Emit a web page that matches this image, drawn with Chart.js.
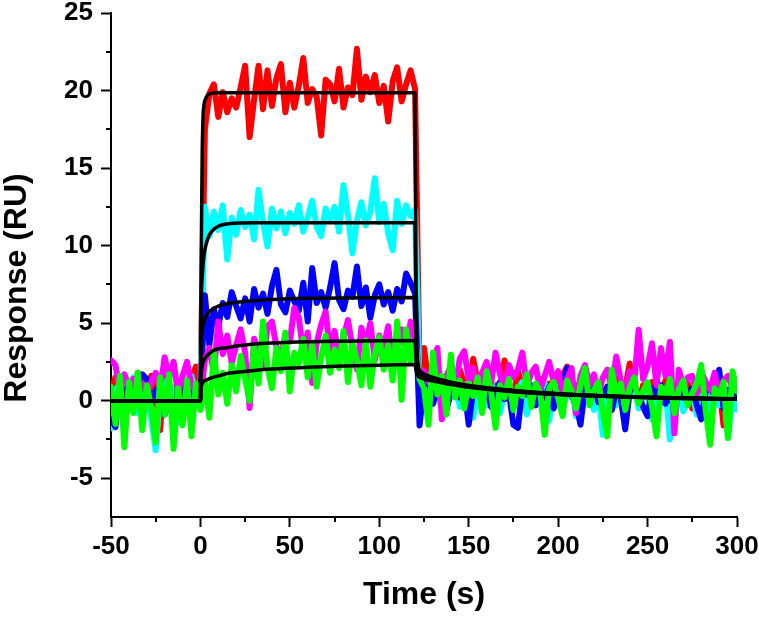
<!DOCTYPE html>
<html>
<head>
<meta charset="utf-8">
<title>Response vs time</title>
<script src="https://cdn.jsdelivr.net/npm/chart.js@4.4.1/dist/chart.umd.min.js"></script>
<style>
  body { margin: 0; background: #fff; }
  #wrap { width: 759px; height: 617px; }
</style>
</head>
<body>
<div id="wrap"><canvas id="chart" width="759" height="617"></canvas></div>
<script>
// sampled time points (s) for the measured curves
const time = [
  -50, -47.5, -45, -42.5, -40, -37.5, -35, -32.5, -30, -27.5,
  -25, -22.5, -20, -17.5, -15, -12.5, -10, -7.5, -5, -2.5,
  0, 2.5, 5, 7.5, 10, 12.5, 15, 17.5, 20, 22.5,
  25, 27.5, 30, 32.5, 35, 37.5, 40, 42.5, 45, 47.5,
  50, 52.5, 55, 57.5, 60, 62.5, 65, 67.5, 70, 72.5,
  75, 77.5, 80, 82.5, 85, 87.5, 90, 92.5, 95, 97.5,
  100, 102.5, 105, 107.5, 110, 112.5, 115, 117.5, 120, 122.5,
  125, 127.5, 130, 132.5, 135, 137.5, 140, 142.5, 145, 147.5,
  150, 152.5, 155, 157.5, 160, 162.5, 165, 167.5, 170, 172.5,
  175, 177.5, 180, 182.5, 185, 187.5, 190, 192.5, 195, 197.5,
  200, 202.5, 205, 207.5, 210, 212.5, 215, 217.5, 220, 222.5,
  225, 227.5, 230, 232.5, 235, 237.5, 240, 242.5, 245, 247.5,
  250, 252.5, 255, 257.5, 260, 262.5, 265, 267.5, 270, 272.5,
  275, 277.5, 280, 282.5, 285, 287.5, 290, 292.5, 295, 297.5,
  300
];

// measured responses (RU), one value per time point
const red = [
  0.8, 1.5, 0.2, -0.8, 1.2, 0.5, 1.8, -0.3, 0.9, 1.6,
  0.4, -1.9, 2.6, 1.1, 0.2, 1.3, -0.5, 0.8, 1.4, 2.2,
  0.6, 17.5, 19.8, 20.4, 18.3, 19.9, 18.6, 19.5, 18.9, 20.2,
  21.6, 17.0, 19.4, 21.6, 18.8, 21.3, 19.0, 20.8, 21.7, 18.6,
  20.5, 18.9, 20.3, 22.1, 19.2, 20.1, 19.6, 17.1, 20.7, 20.4,
  19.3, 21.4, 18.9, 20.2, 19.7, 22.7, 19.4, 20.9, 19.9, 21.0,
  19.2, 20.3, 18.0, 20.6, 21.5, 19.3, 20.4, 21.3, 20.1, 1.8,
  3.4, 1.2, 0.6, 2.1, 1.3, 0.4, 1.7, 0.9, 2.0, 1.1,
  0.3, 2.7, 1.2, 0.6, 1.5, -0.2, 1.0, 0.7, 2.6, 1.1,
  0.2, 1.9, 0.8, 1.3, -0.4, 0.9, 1.4, 0.5, 1.1, -0.3,
  0.8, 1.6, 2.2, 0.4, 1.0, -0.5, 2.2, 0.7, 0.3, 1.2,
  -0.6, 0.9, 0.5, 1.4, 0.1, 0.8, 2.4, 0.6, -0.2, 1.0,
  0.4, 1.2, -0.7, 0.6, 1.3, 0.2, -0.4, 0.9, 0.3, 1.1,
  -0.5, 1.1, 0.2, 0.7, -0.9, 0.5, 0.9, -1.6, 0.4, 1.0,
  0.3
];
const cyan = [
  -1.8, 0.6, 1.2, -0.4, 0.9, 1.5, -0.8, 0.3, 1.1, -1.2,
  -3.2, 0.5, 1.3, -0.6, 0.8, -1.4, 1.0, 0.2, 1.6, -0.3,
  0.9, 12.5, 10.6, 12.2, 11.0, 12.6, 9.1, 11.8, 10.7, 12.3,
  11.2, 12.0, 10.4, 13.6, 11.5, 9.95, 12.4, 11.1, 12.2, 10.8,
  12.1, 11.4, 12.6, 10.9, 11.8, 12.9, 11.2, 10.6, 12.4, 11.7,
  12.5, 10.9, 13.9, 12.0, 9.5, 11.6, 12.8, 11.3, 12.2, 14.35,
  11.5, 12.7, 10.8, 9.7, 12.9, 11.4, 12.6, 11.9, 12.3, 1.2,
  0.8, -0.2, 1.4, 0.5, -0.6, 1.1, 0.3, 1.5, -0.4, 0.7,
  1.2, -1.1, 0.4, 0.9, -0.3, 1.3, 0.2, -0.8, 0.6, 1.0,
  -0.5, 0.7, 1.2, -0.9, 0.4, 0.8, -0.2, 1.1, -1.3, 0.5,
  0.9, -0.4, 0.3, 1.0, -1.0, 0.6, 0.2, 0.8, -0.6, 0.4,
  -2.2, 0.5, 0.9, -0.3, 0.6, -0.8, 0.3, 1.0, -0.5, 0.2,
  0.7, -1.2, 0.4, -0.2, 0.8, -2.5, 0.3, 0.6, -0.7, 0.1,
  0.5, -0.9, 0.2, 0.7, -1.4, 0.4, -0.3, 0.6, -2.4, 0.2,
  -0.6
];
const blue = [
  -1.2, -1.7, 0.9, 0.3, 1.2, -0.5, 0.8, 1.7, 1.4, -0.2,
  0.6, 1.1, -0.9, 0.4, -1.5, 0.9, 0.2, 1.3, -0.4, 0.7,
  0.5, 6.8, 3.6, 5.9, 4.8, 6.3, 5.4, 7.0, 6.1, 5.3,
  6.6, 5.1, 7.2, 6.0, 6.9, 5.6, 7.4, 8.44, 6.2, 5.7,
  7.1, 6.4, 5.8, 7.6, 5.1, 8.55, 6.3, 7.0, 6.0, 7.3,
  8.87, 6.5, 5.9, 7.1, 6.7, 8.65, 6.1, 7.3, 5.35, 6.8,
  7.5, 6.2, 7.0, 5.8, 7.2, 6.4, 8.2, 7.6, 6.9, -1.6,
  0.9, 1.4, -0.2, 0.8, 1.2, -0.6, 0.5, 1.0, 0.2, 0.9,
  -1.55, 0.7, 1.1, 0.3, 0.9, -0.4, 0.6, 1.2, 0.1, 0.5,
  -1.55, -1.75, 0.8, 0.4, 1.0, -0.3, 0.7, 0.2, 0.9, -0.5,
  0.6, 1.1, 2.1, 0.3, -0.2, -1.55, 0.8, 0.4, 1.0, -0.1,
  0.5, 0.9, -0.6, 0.7, 0.2, -1.85, 0.6, 1.1, 0.3, -0.4,
  -1.0, 0.8, 0.3, 1.0, -0.2, 0.6, -0.7, 0.9, 0.2, 0.5,
  0.8, -0.3, -1.2, 0.6, 1.0, 0.2, 2.0, -0.5, 0.7, 0.3,
  0.4
];
const magenta = [
  2.6, 2.3, 0.6, 1.7, 0.9, 1.4, 0.3, 1.1, 0.5, 1.2,
  1.8, 0.7, 2.8, 1.5, 2.5, 0.4, 1.6, 2.5, 1.0, 0.6,
  0.2, 2.6, 3.4, 1.8, 5.1, 3.0, 4.2, 2.4, 3.6, 4.6,
  3.1, -0.47, 4.0, 3.3, 2.2, 4.8, 5.1, 3.5, 2.7, 4.3,
  3.8, 6.0, 5.35, 3.1, 4.4, 1.14, 3.7, 4.9, 5.75, 3.2,
  4.5, 2.9, 4.1, 5.2, 3.4, 2.0, 4.7, 3.6, 5.0, 2.6,
  4.2, 3.5, 4.8, 2.3, 3.9, 4.6, 3.0, 5.1, 4.0, 1.9,
  1.9, 1.2, 2.4, 3.4, -1.2, 1.6, 2.2, 0.9, 2.7, 3.2,
  1.4, 2.1, 0.6, 1.8, 2.5, 1.1, 3.1, 1.7, 0.8, 2.3,
  1.5, 2.0, 3.1, 0.9, 1.8, 2.2, 0.7, 1.6, 2.5, 1.2,
  1.9, 0.5, 1.4, 2.1, -0.8, 1.6, 2.3, 1.0, 1.7, 0.4,
  1.5, 2.0, 0.8, 2.85, 1.3, 0.6, 1.9, 1.1, 4.57, 1.4,
  2.2, 3.7, 1.0, 3.4, 1.6, 3.8, -2.1, 2.0, 0.9, 1.5,
  1.6, 0.4, 1.9, 1.2, 0.7, 1.8, 0.5, 1.3, 1.6, 0.8,
  1.2
];
const green = [
  0.9, -1.5, 1.6, -3.0, 1.2, -0.8, 1.8, -1.9, 1.0, -0.4,
  -2.7, 1.5, -0.9, 1.7, -3.1, 0.8, -1.6, 1.3, -2.3, 1.1,
  -0.6, 1.2, -1.1, 3.2, 0.4, 1.8, -0.2, 2.3, 0.6, 2.9,
  1.4, 0.0, 3.5, 1.1, 5.1, 2.2, 0.8, 3.4, 1.9, 4.4,
  0.6, 3.1, 2.4, 4.0, 1.5, 3.6, 0.9, 2.8, 4.2, 1.8,
  3.3, 2.1, 4.5, 1.2, 3.7, 2.6, 1.0, 3.9, 0.9, 3.0,
  4.1, 2.0, 3.6, 1.3, 5.1, 0.06, 4.6, 2.5, 3.8, 1.4,
  0.8, -1.55, 3.1, 0.4, 1.6, -0.9, 2.96, 0.2, 1.3, -0.5,
  1.1, 0.3, 1.5, -0.8, 1.9, 0.6, -1.75, 1.0, 0.2, 1.4,
  -0.6, 0.9, 0.3, 1.7, -0.4, 1.1, 0.5, -2.2, 0.8, 1.2,
  0.2, -1.0, 1.3, 0.6, -0.5, 1.0, 2.1, -0.3, 0.7, 1.2,
  -0.7, -2.3, 2.0, 0.4, 1.1, -0.6, 0.8, 1.5, -0.2, 0.6,
  1.2, -0.4, -2.3, 0.9, 0.3, 1.4, -0.8, 0.7, 1.3, -0.3,
  0.5, 1.1, 2.3, -0.6, -2.84, 0.8, 0.2, 1.2, -2.4, 1.9,
  0.6
];

// fitted curves (black), read at these times
const fitTime = [
  -50, 0, 0.5, 1, 1.5, 2, 3, 4, 5, 7.5, 10, 15, 20, 30, 40, 60, 80, 100, 120,
  120.5, 121, 121.5, 122, 123, 125, 130, 140, 150, 175, 200, 225, 250, 275, 300
];
const fitRed = [
  0, 0, 10, 16, 18.4, 19.1, 19.5, 19.7, 19.78, 19.84, 19.85, 19.85, 19.85, 19.85, 19.85, 19.85, 19.85, 19.85, 19.85,
  8.0, 3.6, 2.5, 2.1, 1.9, 1.72, 1.5, 1.2, 0.98, 0.66, 0.45, 0.32, 0.23, 0.17, 0.13
];
const fitCyan = [
  0, 0, 6.5, 8.0, 8.8, 9.4, 10.0, 10.4, 10.7, 11.05, 11.25, 11.4, 11.45, 11.47, 11.47, 11.47, 11.47, 11.47, 11.47,
  5.2, 2.9, 2.2, 1.95, 1.8, 1.65, 1.45, 1.17, 0.96, 0.64, 0.44, 0.31, 0.22, 0.16, 0.12
];
const fitBlue = [
  0, 0, 3.8, 4.5, 4.9, 5.1, 5.4, 5.6, 5.75, 5.95, 6.1, 6.25, 6.35, 6.45, 6.52, 6.6, 6.63, 6.64, 6.65,
  3.6, 2.5, 2.0, 1.82, 1.7, 1.57, 1.4, 1.13, 0.93, 0.62, 0.43, 0.3, 0.21, 0.15, 0.11
];
const fitMagenta = [
  0, 0, 1.8, 2.2, 2.45, 2.6, 2.8, 2.95, 3.05, 3.25, 3.35, 3.42, 3.52, 3.65, 3.72, 3.8, 3.84, 3.87, 3.88,
  2.7, 2.1, 1.85, 1.72, 1.62, 1.5, 1.34, 1.09, 0.9, 0.6, 0.41, 0.29, 0.2, 0.14, 0.1
];
const fitGreen = [
  0, 0, 0.9, 1.1, 1.2, 1.26, 1.32, 1.37, 1.42, 1.52, 1.6, 1.75, 1.83, 1.95, 2.04, 2.15, 2.23, 2.29, 2.33,
  2.0, 1.75, 1.62, 1.55, 1.48, 1.4, 1.27, 1.04, 0.86, 0.58, 0.4, 0.28, 0.19, 0.13, 0.09
];

const FONT = '"Liberation Sans", Arial, sans-serif';

function points(xs, ys) {
  return xs.map((x, i) => ({ x: x, y: ys[i] }));
}

function dataSet(values, color, order) {
  return {
    data: points(time, values),
    borderColor: color,
    borderWidth: 6,
    borderJoinStyle: 'round',
    borderCapStyle: 'round',
    pointRadius: 0,
    order: order
  };
}

function fitSet(values) {
  return {
    data: points(fitTime, values),
    borderColor: '#000',
    borderWidth: 3.5,
    borderJoinStyle: 'round',
    pointRadius: 0,
    cubicInterpolationMode: 'monotone',
    order: 0
  };
}

// short minor ticks and the two axis titles
const axisDecor = {
  id: 'axisDecor',
  afterDraw(chart) {
    const ctx = chart.ctx;
    const xs = chart.scales.x;
    const ys = chart.scales.y;
    const area = chart.chartArea;
    ctx.save();
    ctx.strokeStyle = '#000';
    ctx.lineWidth = 2;
    ctx.beginPath();
    xs.ticks.forEach(t => {
      if (t.value % 50 !== 0) {
        const px = Math.round(xs.getPixelForValue(t.value));
        ctx.moveTo(px, area.bottom);
        ctx.lineTo(px, area.bottom + 5);
      }
    });
    ys.ticks.forEach(t => {
      if (t.value % 5 !== 0 && t.value !== ys.min) {
        const py = Math.round(ys.getPixelForValue(t.value));
        ctx.moveTo(area.left, py);
        ctx.lineTo(area.left - 5, py);
      }
    });
    ctx.stroke();

    ctx.fillStyle = '#000';
    ctx.font = 'bold 32px ' + FONT;
    ctx.textAlign = 'center';
    ctx.textBaseline = 'alphabetic';
    ctx.fillText('Time (s)', (area.left + area.right) / 2, 604);
    ctx.translate(26, 288);
    ctx.rotate(-Math.PI / 2);
    ctx.fillText('Response (RU)', 0, 0);
    ctx.restore();
  }
};

new Chart(document.getElementById('chart'), {
  type: 'line',
  data: {
    datasets: [
      dataSet(red, '#ff0000', 5),
      dataSet(cyan, '#00ffff', 4),
      dataSet(blue, '#0000ff', 3),
      dataSet(magenta, '#ff00ff', 2),
      dataSet(green, '#00ff00', 1),
      fitSet(fitRed),
      fitSet(fitCyan),
      fitSet(fitBlue),
      fitSet(fitMagenta),
      fitSet(fitGreen)
    ]
  },
  options: {
    responsive: false,
    animation: false,
    layout: { padding: { left: 0, right: 22, top: 13, bottom: 0 } },
    plugins: {
      legend: { display: false },
      tooltip: { enabled: false }
    },
    scales: {
      x: {
        type: 'linear',
        min: -50,
        max: 300,
        ticks: {
          stepSize: 25,
          autoSkip: false,
          maxRotation: 0,
          padding: 4,
          color: '#000',
          font: { family: FONT, size: 26, weight: 'bold' },
          callback: v => (v % 50 === 0 ? v : '')
        },
        grid: {
          drawOnChartArea: false,
          drawTicks: true,
          tickLength: 10,
          tickWidth: 2,
          tickColor: c => (c.tick && c.tick.value % 50 === 0 ? '#000' : 'rgba(0,0,0,0)')
        },
        border: { display: true, color: '#000', width: 2 },
        afterFit: s => {
          s.height = 100;
          s.paddingLeft = 0;
          s.paddingRight = 0;
        }
      },
      y: {
        min: -7.5,
        max: 25,
        ticks: {
          stepSize: 2.5,
          autoSkip: false,
          padding: 8,
          color: '#000',
          font: { family: FONT, size: 26, weight: 'bold' },
          callback: v => (v % 5 === 0 ? v : '')
        },
        grid: {
          drawOnChartArea: false,
          drawTicks: true,
          tickLength: 10,
          tickWidth: 2,
          tickColor: c => (c.tick && c.tick.value % 5 === 0 ? '#000' : 'rgba(0,0,0,0)')
        },
        border: { display: true, color: '#000', width: 2 },
        afterFit: s => {
          s.width = 111;
          s.paddingTop = 0;
          s.paddingBottom = 0;
        }
      }
    }
  },
  plugins: [axisDecor]
});
</script>
</body>
</html>
